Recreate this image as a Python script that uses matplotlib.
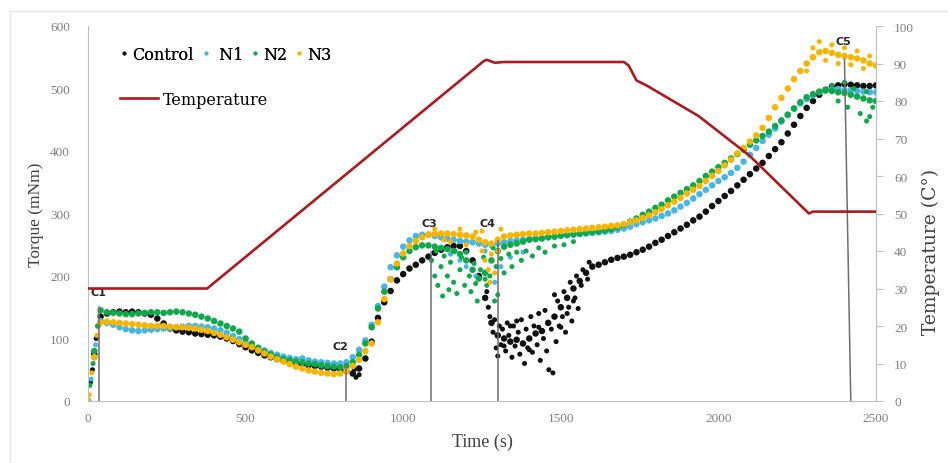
import matplotlib
matplotlib.use("Agg")
import matplotlib.pyplot as plt
from matplotlib.lines import Line2D

# ---------------- data ----------------
time_s = list(range(0, 2501, 20))

control = [0, 75, 135, 140, 142, 143, 142, 143, 142, 140,
           138, 132, 124, 116, 113, 111, 110, 108, 107, 106,
           105, 103, 100, 96, 91, 86, 81, 77, 73, 70,
           67, 64, 62, 60, 59, 57, 56, 55, 53, 52,
           51, 48, 44, 52, 68, 95, 133, 158, 176, 193,
           203, 212, 218, 225, 231, 237, 242, 246, 248, 248,
           240, 225, 200, 165, 125, 105, 100, 95, 98, 92,
           100, 108, 112, 125, 135, 150, 165, 180, 192, 205,
           215, 218, 222, 226, 229, 231, 234, 238, 242, 247,
           253, 258, 264, 270, 276, 282, 289, 295, 303, 312,
           320, 328, 336, 345, 354, 363, 372, 381, 392, 403,
           414, 428, 442, 456, 469, 480, 490, 498, 503, 505,
           507, 506, 505, 504, 504, 505]

n1 = [0, 70, 128, 125, 122, 118, 115, 113, 112, 113,
      114, 115, 116, 117, 118, 119, 120, 120, 119, 118,
      116, 113, 109, 104, 99, 94, 89, 85, 81, 77,
      74, 71, 69, 67, 68, 65, 63, 62, 61, 60,
      60, 62, 70, 82, 97, 122, 152, 183, 214, 233,
      247, 257, 264, 266, 266, 264, 262, 260, 258, 256,
      255, 254, 252, 250, 250, 252, 254, 256, 257, 258,
      259, 260, 261, 262, 263, 264, 265, 266, 267, 268,
      269, 270, 271, 272, 274, 276, 279, 283, 286, 289,
      292, 296, 300, 305, 311, 317, 324, 331, 338, 345,
      352, 358, 365, 373, 383, 394, 405, 416, 426, 436,
      447, 458, 468, 476, 483, 489, 494, 497, 499, 499,
      498, 497, 496, 495, 494, 494]

n2 = [0, 80, 145, 142, 141, 140, 139, 139, 140, 141,
      142, 142, 141, 142, 143, 142, 140, 138, 135, 132,
      128, 124, 120, 116, 111, 100, 92, 85, 79, 74,
      70, 67, 65, 63, 62, 60, 59, 57, 56, 55,
      54, 56, 62, 74, 92, 118, 148, 175, 195, 214,
      230, 240, 246, 249, 249, 247, 245, 243, 240, 235,
      225, 210, 196, 205, 225, 240, 247, 250, 252, 255,
      258, 259, 260, 262, 263, 265, 266, 267, 268, 269,
      270, 271, 273, 275, 278, 282, 287, 292, 298, 303,
      309, 314, 321, 327, 333, 339, 345, 352, 360, 367,
      374, 381, 388, 395, 402, 410, 417, 424, 431, 440,
      449, 458, 468, 478, 486, 491, 495, 497, 496, 494,
      493, 490, 487, 484, 481, 480]

n3 = [0, 70, 125, 127, 126, 125, 124, 123, 122, 121,
      120, 120, 120, 119, 118, 118, 117, 116, 114, 112,
      109, 106, 102, 98, 94, 90, 86, 81, 76, 71,
      67, 63, 59, 55, 52, 49, 47, 45, 44, 43,
      44, 48, 56, 66, 80, 92, 126, 163, 195, 220,
      236, 248, 256, 262, 266, 267, 268, 268, 267, 266,
      265, 263, 258, 254, 252, 258, 263, 265, 266, 267,
      268, 268, 269, 270, 271, 272, 273, 274, 275, 276,
      277, 278, 279, 280, 281, 283, 286, 289, 293, 297,
      302, 307, 313, 319, 325, 332, 338, 344, 352, 360,
      368, 377, 386, 396, 405, 415, 425, 437, 453, 470,
      485, 500, 515, 528, 540, 550, 558, 560, 557, 554,
      552, 550, 548, 545, 540, 537]

# scattered extra readings (noisy regions)
control_x_t = [8, 14, 26, 32, 845, 850, 860,
               1265, 1270, 1275, 1285, 1290, 1295, 1300, 1305, 1310, 1315, 1325, 1330,
               1335, 1345, 1350, 1355, 1365, 1370, 1375, 1385, 1390, 1395, 1405, 1410,
               1415, 1425, 1430, 1435, 1445, 1450, 1455, 1462, 1475, 1470, 1485, 1490,
               1495, 1505, 1510, 1515, 1525, 1530, 1535, 1545, 1550, 1555, 1565, 1570,
               1585, 1590, 1430, 1400, 1360, 1340, 1320, 1480, 1500, 1520, 1540]
control_x_v = [30, 50, 100, 120, 50, 38, 42,
               175, 150, 135, 110, 130, 85, 72, 120, 90, 115, 80, 125,
               105, 70, 120, 88, 110, 75, 130, 60, 115, 85, 135, 78,
               120, 90, 140, 65, 100, 145, 80, 50, 45, 115, 95, 160,
               120, 135, 175, 110, 150, 190, 128, 165, 200, 148, 185, 210,
               195, 222, 118, 82, 128, 120, 88, 170, 118, 140, 160]

n1_x_t = [10, 24, 1150, 1200, 1230, 1260, 1290, 1310, 1340, 1180, 1380]
n1_x_v = [35, 90, 235, 215, 200, 240, 190, 215, 230, 225, 238]

n2_x_t = [6, 16, 30, 1090, 1100, 1105, 1110, 1120, 1125, 1130, 1140, 1145, 1150,
          1160, 1165, 1170, 1180, 1185, 1195, 1200, 1210, 1215, 1225, 1230, 1235,
          1245, 1255, 1260, 1265, 1275, 1285, 1290, 1295, 1300, 1310, 1320, 1335,
          1345, 1360, 1375, 1390, 1410, 1430, 1450, 1480, 1510, 1540,
          2360, 2380, 2410, 2430, 2450, 2470, 2480, 2490, 2470, 2400]
n2_x_v = [25, 60, 120, 225, 200, 240, 185, 215, 168, 232, 200, 178, 222,
          190, 240, 172, 210, 230, 185, 238, 200, 175, 220, 188, 160,
          210, 230, 195, 185, 200, 245, 160, 215, 170, 228, 205, 235,
          215, 238, 225, 240, 232, 245, 238, 248, 250, 255,
          505, 480, 470, 500, 460, 495, 455, 470, 448, 510]

n3_x_t = [4, 12, 28, 1100, 1130, 1150, 1180, 1200, 1230, 1250, 1250, 1260, 1270,
          1275, 1280, 1290, 1300, 1310, 2280, 2300, 2320, 2340, 2360, 2380, 2400,
          2420, 2440, 2460, 2480]
n3_x_v = [10, 45, 105, 275, 258, 255, 275, 250, 270, 240, 272, 225, 210,
          190, 235, 205, 240, 275, 528, 565, 575, 545, 570, 540, 565,
          538, 560, 532, 552]

temp_time = [0, 378, 1255, 1265, 1290, 1320, 1700, 1715, 1740, 1775, 1937, 2099, 2287, 2300, 2500]
temp_c = [30, 30, 90.6, 91, 90.2, 90.4, 90.4, 89.5, 85.5, 84, 76, 65.4, 50, 50.5, 50.5]

event_labels = ["C1", "C2", "C3", "C4", "C5"]
event_time_top = [36, 818, 1088, 1300, 2400]
event_time_bottom = [36, 818, 1088, 1300, 2420]
event_torque_top = [150, 56, 238, 256, 547]

# label placement (layout, not data)
label_xy = [(32, 174), (800, 88), (1082, 285), (1268, 285), (2395, 576)]

# ---------------- style ----------------
serif = ["Liberation Serif", "DejaVu Serif"]
wide_serif = ["DejaVu Serif"]
c_control = "#111111"
c_n1 = "#45b6e6"
c_n2 = "#10a84a"
c_n3 = "#f7b500"
c_temp = "#ad1a1d"
tick_col = "#808080"
spine_col = "#bfbfbf"

fig = plt.figure(figsize=(9.48, 4.64), dpi=100)
ax = fig.add_axes([88 / 948, 62 / 464, 788 / 948, 375 / 464])
ax2 = ax.twinx()

ms = 22
for tx, vx, tt, vv, col in [
    (time_s, control, control_x_t, control_x_v, c_control),
    (time_s, n1, n1_x_t, n1_x_v, c_n1),
    (time_s, n2, n2_x_t, n2_x_v, c_n2),
    (time_s, n3, n3_x_t, n3_x_v, c_n3),
]:
    ax.scatter(tx, vx, s=ms, color=col, edgecolors="none", zorder=2)
    ax.scatter(tt, vv, s=ms * 0.6, color=col, edgecolors="none", zorder=2)

ax2.plot(temp_time, temp_c, color=c_temp, lw=1.9, zorder=3)

for lab, t0, t1, top, (lx, ly) in zip(event_labels, event_time_top, event_time_bottom,
                                      event_torque_top, label_xy):
    ax.plot([t0, t1], [top, 0], color="#6e6e6e", lw=1.1, zorder=4)
    ax.text(lx, ly, lab, ha="center", va="center", fontsize=8,
            fontweight="bold", color="#262626", family=["DejaVu Sans"], zorder=5)

ax.set_xlim(0, 2500)
ax.set_ylim(0, 600)
ax2.set_ylim(0, 100)
ax.set_xticks(range(0, 2501, 500))
ax.set_yticks(range(0, 601, 100))
ax2.set_yticks(range(0, 101, 10))

for a in (ax, ax2):
    for s in a.spines.values():
        s.set_visible(False)
ax.spines["left"].set_visible(True)
ax.spines["left"].set_color(spine_col)
ax.spines["bottom"].set_visible(True)
ax.spines["bottom"].set_color(spine_col)
ax2.spines["right"].set_visible(True)
ax2.spines["right"].set_color(spine_col)

ax.tick_params(axis="y", length=0, pad=13, labelsize=9.5, labelcolor=tick_col)
ax.tick_params(axis="x", length=0, pad=8, labelsize=9.5, labelcolor=tick_col)
ax2.tick_params(axis="y", length=5, width=0.8, color=spine_col, pad=8,
                labelsize=9.5, labelcolor=tick_col)
for lbl in ax.get_xticklabels() + ax.get_yticklabels() + ax2.get_yticklabels():
    lbl.set_family(serif)

ax.set_xlabel("Time (s)", family=serif, fontsize=13, color="#404040", labelpad=6)
ax.set_ylabel("Torque (mNm)", family=serif, fontsize=12.5, color="#404040")
ax.yaxis.set_label_coords(-0.056, 0.5)
ax2.set_ylabel("Temperature (C\u00b0)", family=wide_serif, fontsize=13.5, color="#404040")
ax2.yaxis.set_label_coords(1.058, 0.40)

# legends
h_sc = [Line2D([], [], marker="o", ls="none", ms=2.8, color=c, mec="none")
        for c in (c_control, c_n1, c_n2, c_n3)]
leg1 = ax.legend(h_sc, ["Control", " N1", "N2", "N3"], ncol=4, loc="upper left",
                 bbox_to_anchor=(0.04, 0.947), frameon=False, handlelength=0.6,
                 handletextpad=0.2, columnspacing=0.45, borderpad=0, borderaxespad=0,
                 prop={"family": wide_serif, "size": 11.5})
ax.add_artist(leg1)
h_t = [Line2D([], [], color=c_temp, lw=1.9)]
ax2.legend(h_t, ["Temperature"], loc="upper left", bbox_to_anchor=(0.04, 0.827),
           frameon=False, handlelength=2.4, handletextpad=0.3, borderpad=0,
           borderaxespad=0, prop={"family": wide_serif, "size": 11.5})

# outer frame
fig.add_artist(Line2D([10 / 948, 10 / 948], [0, 1 - 12 / 464], color="#e3e3e3", lw=0.9,
                      transform=fig.transFigure))
fig.add_artist(Line2D([10 / 948, 1], [1 - 12 / 464, 1 - 12 / 464], color="#e3e3e3", lw=0.9,
                      transform=fig.transFigure))

fig.savefig("out.png", dpi=100)
